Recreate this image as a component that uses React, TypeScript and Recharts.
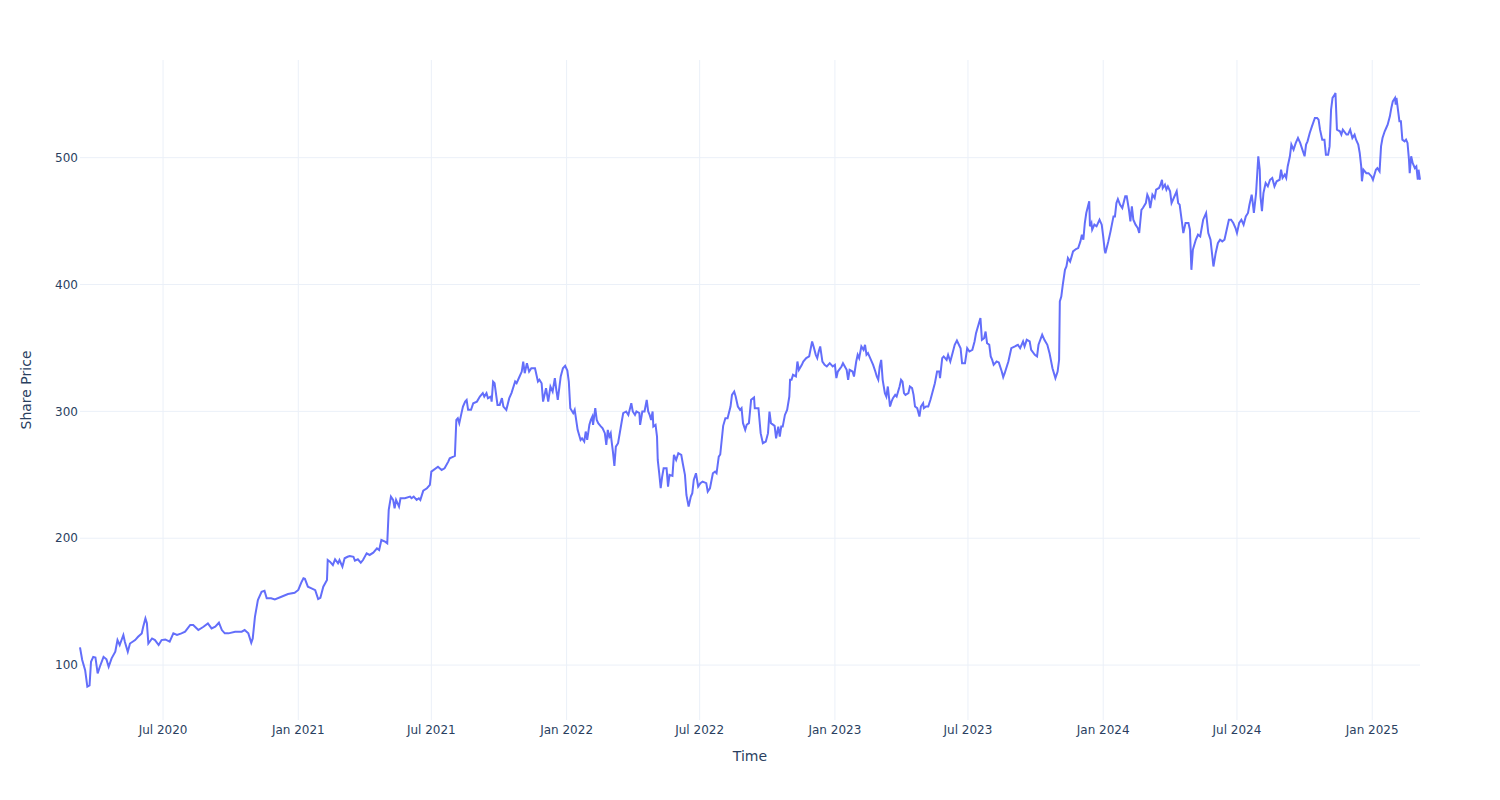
import { LineChart, Line, XAxis, YAxis, CartesianGrid } from 'recharts'

const dates = [
  '2020-03-10', '2020-03-13', '2020-03-17', '2020-03-20', '2020-03-23', '2020-03-25', '2020-03-28', '2020-03-31',
  '2020-04-03', '2020-04-06', '2020-04-11', '2020-04-15', '2020-04-18', '2020-04-22', '2020-04-27', '2020-04-30',
  '2020-05-03', '2020-05-08', '2020-05-10', '2020-05-14', '2020-05-17', '2020-05-24', '2020-05-28',
  '2020-06-02', '2020-06-04', '2020-06-07', '2020-06-09', '2020-06-11', '2020-06-16', '2020-06-20', '2020-06-25', '2020-06-29',
  '2020-07-04', '2020-07-10', '2020-07-15', '2020-07-20', '2020-07-26', '2020-07-31',
  '2020-08-07', '2020-08-11', '2020-08-18', '2020-08-25', '2020-08-31',
  '2020-09-05', '2020-09-10', '2020-09-15', '2020-09-19', '2020-09-23', '2020-09-28',
  '2020-10-07', '2020-10-16', '2020-10-20', '2020-10-25', '2020-10-29', '2020-10-31',
  '2020-11-03', '2020-11-07', '2020-11-12', '2020-11-16', '2020-11-19', '2020-11-25', '2020-11-30',
  '2020-12-09', '2020-12-18', '2020-12-27',
  '2021-01-01', '2021-01-05', '2021-01-08', '2021-01-10', '2021-01-14', '2021-01-19', '2021-01-24', '2021-01-28', '2021-01-31',
  '2021-02-04', '2021-02-09', '2021-02-10', '2021-02-13', '2021-02-17', '2021-02-20', '2021-02-24', '2021-02-26',
  '2021-03-02', '2021-03-05', '2021-03-09', '2021-03-12', '2021-03-17', '2021-03-19', '2021-03-23', '2021-03-27', '2021-03-30',
  '2021-04-04', '2021-04-08', '2021-04-13', '2021-04-18', '2021-04-21', '2021-04-24', '2021-04-29',
  '2021-05-02', '2021-05-04', '2021-05-07', '2021-05-10', '2021-05-12', '2021-05-14', '2021-05-18', '2021-05-20', '2021-05-26',
  '2021-06-02', '2021-06-04', '2021-06-07', '2021-06-11', '2021-06-14', '2021-06-16', '2021-06-20', '2021-06-25', '2021-06-29',
  '2021-07-01', '2021-07-10', '2021-07-15', '2021-07-19', '2021-07-24', '2021-07-26', '2021-07-31',
  '2021-08-02', '2021-08-04', '2021-08-06', '2021-08-08', '2021-08-11', '2021-08-13', '2021-08-16', '2021-08-18', '2021-08-20', '2021-08-24', '2021-08-27',
  '2021-09-01', '2021-09-05', '2021-09-09', '2021-09-11', '2021-09-14', '2021-09-16', '2021-09-20', '2021-09-21', '2021-09-23', '2021-09-25', '2021-09-29',
  '2021-10-02', '2021-10-05', '2021-10-07', '2021-10-11', '2021-10-15', '2021-10-18', '2021-10-23', '2021-10-25', '2021-10-29',
  '2021-11-01', '2021-11-03', '2021-11-05', '2021-11-08', '2021-11-11', '2021-11-14', '2021-11-19', '2021-11-23', '2021-11-25', '2021-11-28', '2021-11-30',
  '2021-12-04', '2021-12-07', '2021-12-10', '2021-12-13', '2021-12-16', '2021-12-18', '2021-12-20', '2021-12-24', '2021-12-27', '2021-12-30',
  '2022-01-02', '2022-01-04', '2022-01-06', '2022-01-10', '2022-01-12', '2022-01-14', '2022-01-16', '2022-01-20', '2022-01-22', '2022-01-25', '2022-01-27', '2022-01-29',
  '2022-02-01', '2022-02-03', '2022-02-05', '2022-02-06', '2022-02-09', '2022-02-11', '2022-02-13', '2022-02-16', '2022-02-19', '2022-02-22', '2022-02-24', '2022-02-26', '2022-02-28',
  '2022-03-02', '2022-03-03', '2022-03-05', '2022-03-07', '2022-03-09', '2022-03-12', '2022-03-17', '2022-03-19', '2022-03-23', '2022-03-26', '2022-03-30',
  '2022-04-01', '2022-04-04', '2022-04-06', '2022-04-10', '2022-04-11', '2022-04-14', '2022-04-17', '2022-04-20', '2022-04-22', '2022-04-24', '2022-04-26', '2022-04-28', '2022-04-29',
  '2022-05-02', '2022-05-04', '2022-05-05', '2022-05-07', '2022-05-09', '2022-05-11', '2022-05-13', '2022-05-17', '2022-05-19', '2022-05-21', '2022-05-25', '2022-05-27', '2022-05-30',
  '2022-06-02', '2022-06-06', '2022-06-08', '2022-06-11', '2022-06-13', '2022-06-16', '2022-06-19', '2022-06-21', '2022-06-23', '2022-06-26', '2022-06-29',
  '2022-07-02', '2022-07-05', '2022-07-10', '2022-07-12', '2022-07-15', '2022-07-19', '2022-07-22', '2022-07-24', '2022-07-27', '2022-07-29',
  '2022-08-02', '2022-08-05', '2022-08-08', '2022-08-12', '2022-08-14', '2022-08-17', '2022-08-19', '2022-08-22', '2022-08-25', '2022-08-27', '2022-08-29',
  '2022-09-01', '2022-09-03', '2022-09-06', '2022-09-09', '2022-09-13', '2022-09-14', '2022-09-19', '2022-09-22', '2022-09-25', '2022-09-29',
  '2022-10-02', '2022-10-04', '2022-10-06', '2022-10-11', '2022-10-13', '2022-10-16', '2022-10-18', '2022-10-20', '2022-10-22', '2022-10-25', '2022-10-28', '2022-10-31',
  '2022-11-01', '2022-11-03', '2022-11-05', '2022-11-09', '2022-11-11', '2022-11-13', '2022-11-17', '2022-11-19', '2022-11-23', '2022-11-27',
  '2022-12-01', '2022-12-03', '2022-12-06', '2022-12-08', '2022-12-10', '2022-12-12', '2022-12-15', '2022-12-18', '2022-12-21', '2022-12-25', '2022-12-29',
  '2023-01-01', '2023-01-03', '2023-01-05', '2023-01-10', '2023-01-12', '2023-01-17', '2023-01-19', '2023-01-21', '2023-01-25', '2023-01-27', '2023-01-30',
  '2023-02-01', '2023-02-03', '2023-02-06', '2023-02-09', '2023-02-11', '2023-02-13', '2023-02-15', '2023-02-18', '2023-02-22', '2023-02-25', '2023-02-27',
  '2023-03-01', '2023-03-03', '2023-03-05', '2023-03-07', '2023-03-10', '2023-03-12', '2023-03-14', '2023-03-17', '2023-03-19', '2023-03-21', '2023-03-24', '2023-03-26', '2023-03-30',
  '2023-04-01', '2023-04-03', '2023-04-05', '2023-04-07', '2023-04-11', '2023-04-13', '2023-04-16', '2023-04-18', '2023-04-20', '2023-04-23', '2023-04-26', '2023-04-28',
  '2023-05-01', '2023-05-02', '2023-05-05', '2023-05-08', '2023-05-11', '2023-05-14', '2023-05-17', '2023-05-20', '2023-05-23', '2023-05-24', '2023-05-27', '2023-05-29',
  '2023-06-02', '2023-06-04', '2023-06-07', '2023-06-10', '2023-06-13', '2023-06-16', '2023-06-21', '2023-06-23', '2023-06-27', '2023-06-30',
  '2023-07-03', '2023-07-07', '2023-07-10', '2023-07-12', '2023-07-16', '2023-07-18', '2023-07-20', '2023-07-23', '2023-07-25', '2023-07-27', '2023-07-30',
  '2023-08-01', '2023-08-03', '2023-08-05', '2023-08-09', '2023-08-12', '2023-08-16', '2023-08-18', '2023-08-20', '2023-08-25', '2023-08-29',
  '2023-09-03', '2023-09-07', '2023-09-10', '2023-09-14', '2023-09-16', '2023-09-19', '2023-09-23', '2023-09-25', '2023-09-30',
  '2023-10-03', '2023-10-05', '2023-10-10', '2023-10-13', '2023-10-17', '2023-10-20', '2023-10-24', '2023-10-28', '2023-10-31',
  '2023-11-02', '2023-11-03', '2023-11-05', '2023-11-07', '2023-11-10', '2023-11-12', '2023-11-14', '2023-11-17', '2023-11-19', '2023-11-21', '2023-11-25', '2023-11-28',
  '2023-12-01', '2023-12-03', '2023-12-05', '2023-12-07', '2023-12-09', '2023-12-13', '2023-12-14', '2023-12-16', '2023-12-17', '2023-12-20', '2023-12-23', '2023-12-27', '2023-12-30',
  '2024-01-01', '2024-01-03', '2024-01-04', '2024-01-08', '2024-01-11', '2024-01-15', '2024-01-17', '2024-01-19', '2024-01-21', '2024-01-24', '2024-01-27', '2024-01-31',
  '2024-02-02', '2024-02-05', '2024-02-07', '2024-02-09', '2024-02-11', '2024-02-14', '2024-02-17', '2024-02-19', '2024-02-22', '2024-02-24', '2024-02-28',
  '2024-03-01', '2024-03-03', '2024-03-05', '2024-03-08', '2024-03-11', '2024-03-13', '2024-03-17', '2024-03-19', '2024-03-21', '2024-03-22', '2024-03-25', '2024-03-27', '2024-03-29',
  '2024-04-01', '2024-04-03', '2024-04-06', '2024-04-10', '2024-04-12', '2024-04-14', '2024-04-17', '2024-04-19', '2024-04-22', '2024-04-26', '2024-04-28', '2024-04-30',
  '2024-05-02', '2024-05-06', '2024-05-09', '2024-05-12', '2024-05-16', '2024-05-20', '2024-05-23', '2024-05-26', '2024-05-30',
  '2024-06-02', '2024-06-05', '2024-06-08', '2024-06-11', '2024-06-14', '2024-06-17', '2024-06-20', '2024-06-23', '2024-06-26', '2024-06-29',
  '2024-07-01', '2024-07-04', '2024-07-07', '2024-07-10', '2024-07-13', '2024-07-16', '2024-07-18', '2024-07-21', '2024-07-22', '2024-07-24', '2024-07-27', '2024-07-30',
  '2024-08-01', '2024-08-02', '2024-08-04', '2024-08-06', '2024-08-09', '2024-08-12', '2024-08-15', '2024-08-18', '2024-08-21', '2024-08-24', '2024-08-28', '2024-08-30',
  '2024-09-01', '2024-09-04', '2024-09-06', '2024-09-08', '2024-09-11', '2024-09-13', '2024-09-16', '2024-09-19', '2024-09-22', '2024-09-25', '2024-09-28',
  '2024-10-01', '2024-10-03', '2024-10-05', '2024-10-08', '2024-10-11', '2024-10-15', '2024-10-18', '2024-10-20', '2024-10-22', '2024-10-25', '2024-10-28', '2024-10-30',
  '2024-11-02', '2024-11-04', '2024-11-06', '2024-11-08', '2024-11-11', '2024-11-12', '2024-11-14', '2024-11-18', '2024-11-20', '2024-11-22', '2024-11-27', '2024-11-29',
  '2024-12-02', '2024-12-05', '2024-12-08', '2024-12-10', '2024-12-13', '2024-12-15', '2024-12-17', '2024-12-18', '2024-12-20', '2024-12-24', '2024-12-27', '2024-12-31',
  '2025-01-02', '2025-01-06', '2025-01-08', '2025-01-11', '2025-01-13', '2025-01-15', '2025-01-18', '2025-01-20', '2025-01-22', '2025-01-25', '2025-01-27', '2025-01-29',
  '2025-02-01', '2025-02-02', '2025-02-03', '2025-02-05', '2025-02-07', '2025-02-09', '2025-02-11', '2025-02-14', '2025-02-16', '2025-02-18', '2025-02-20', '2025-02-21', '2025-02-23', '2025-02-25', '2025-02-28',
  '2025-03-02', '2025-03-04', '2025-03-05', '2025-03-07',
]

const prices = [
  114, 104, 96, 83, 84, 102.6, 106.5, 106,
  93.5, 98.7, 106.5, 104.5, 98.7, 105.3, 110.5, 119.7,
  115.8, 123.7, 118.4, 110.5, 117, 119.7, 122.3,
  125, 130.2, 136.8, 133, 117, 121, 119.7, 115.8, 119.7,
  120.2, 118.4, 125, 123.7, 125, 126.3,
  131.6, 131.6, 127.6, 130.2, 132.9,
  128.9, 130.2, 133.4, 127.6, 125, 125,
  126.3, 126.3, 127.6, 125, 117.6, 121,
  138, 151.3, 157.8, 158.6, 152.6, 152.6, 151.8,
  153.9, 156, 157,
  159.2, 165, 168.4, 168, 161.8, 160.5, 159, 152, 153,
  161.8, 167, 182.8, 181.5, 178.9, 183.4, 180.2, 182.8,
  177.6, 184.2, 185.4, 186, 185.4, 182.3, 183.4, 180.7, 182.8,
  188.1, 186.8, 188.6, 192, 190.7, 198.6, 197.3,
  196, 222.3, 232.8, 230.2, 223.6, 230.2, 224.9, 231.5, 231.5,
  232.8, 231.5, 232.8, 230.2, 231.5, 230.2, 237.5, 239.4, 242,
  252.5, 256.4, 253.8, 255.1, 260.4, 263, 264.3,
  264.9, 293.3, 294.6, 290.7, 298.6, 303.8, 307.7, 309, 301.2, 301.2, 306.4,
  307.7, 311.7, 314.4, 311.7, 314.4, 310.4, 311.7, 307.7, 323.5, 322.2, 305.1,
  305.1, 310.4, 303.8, 301.2, 310.4, 314.4, 323.5, 322.2, 327.5,
  331.4, 339.3, 330.1, 338, 331.4, 334, 334, 323.5, 324.9, 322.2, 307.7,
  318.3, 307.7, 319.6, 315.6, 326.2, 317, 309.1, 327.5, 334, 335.9,
  332.1, 323.5, 302.5, 298.6, 301.2, 293.3, 285.4, 277.5, 278.8, 276.2, 284.1, 277.5,
  289.4, 293.3, 295.9, 289.4, 302.5, 293.3, 290.7, 288.6, 286.7, 282.8, 273.6, 285.4, 280.1,
  282.8, 277.5, 268.3, 257, 272.2, 274.9, 292, 298.6, 299.9, 297.2, 306.4,
  299.9, 297.2, 299.9, 298.6, 289.4, 299.9, 299.9, 309, 299.9, 297.2, 293.3, 299.9, 288,
  289.4, 280.1, 261.7, 251.2, 239.4, 248.6, 255.1, 255.1, 240.7, 249.9, 249.1, 265.7, 261.7,
  267, 265.7, 259.1, 249.9, 234.1, 224.9, 232.8, 235.5, 246, 251.2, 240.7,
  243.4, 244.6, 243.4, 236.8, 239.4, 251.2, 252.5, 251.2, 264.3, 266,
  288.6, 294.6, 294.6, 303.8, 313, 315.6, 311.7, 303.8, 301.2, 302.5, 290.7,
  285.4, 289.4, 290.7, 309.1, 311, 302.5, 302.5, 282.8, 274.9, 276.2,
  282.8, 299.9, 290.7, 288.6, 278.8, 288, 280.1, 288, 288, 297.2, 301.2, 311.7,
  324.9, 324.9, 328.8, 327.5, 339.3, 332.7, 336.7, 339.3, 342, 343.3,
  355.1, 351.2, 344.6, 342, 347.2, 351.2, 339.3, 336.7, 335.4, 338, 335.4,
  336.7, 326.2, 331.4, 335.4, 338, 332.7, 324.9, 332.7, 331.4, 327.5, 339.3,
  344.6, 342, 351.2, 348.5, 352.5, 344.6, 345.9, 342, 336.7, 331.4, 327.5,
  324.9, 335.4, 340.6, 324.9, 314.4, 311.7, 319.6, 303.8, 307.7, 310.4, 313, 311.7, 319.6,
  324.9, 323.5, 314.4, 313, 314.4, 319.6, 318.3, 313, 303.8, 302.5, 295.9, 303.8,
  306.4, 302.5, 303.8, 303.8, 309.1, 315.6, 322.2, 331.4, 331.4, 326.2, 342, 343.3,
  340.6, 344.6, 339.3, 345.9, 352.5, 355.9, 349.8, 338, 338, 349.8,
  347.2, 348.5, 355.1, 361.7, 369.6, 373.5, 356.4, 357.7, 362.9, 353.8, 352.5,
  343.3, 340.6, 336.7, 339.3, 338.6, 331.4, 327, 330.1, 339.3, 349.8,
  351.2, 352.5, 349.8, 355.1, 351.2, 356.4, 355.1, 348.5, 344.6,
  343.3, 352.5, 360.4, 356.4, 352.5, 345.9, 334, 326.2, 331.4,
  340.6, 386.6, 390.5, 399.8, 411.6, 414.2, 420.9, 418.1, 422, 426.1, 428, 428.7,
  434, 439.3, 435.3, 448.5, 456.4, 465.6, 445.9, 448.5, 443.2, 447.2, 445.9, 451.1, 447.2,
  437.9, 427.4, 424.7, 434, 441.9, 453.7, 453.7, 464.2, 467.4, 462.9, 460.3, 469.5,
  469.5, 459, 449.8, 461.6, 451.1, 447.2, 444.5, 440.6, 458.9, 460.3, 464.2,
  470.8, 468.2, 460.3, 470.8, 468.2, 474.8, 476.1, 478.7, 482.6, 476.1, 478.7, 474.8, 477.4,
  473.5, 464.2, 468.2, 473.5, 464.2, 463, 449.8, 440.6, 448.5, 448.5, 443.2, 411.6,
  427.4, 435.3, 439.3, 437.9, 451.1, 456.4, 440.6, 435.3, 414.2,
  424.7, 432.6, 435.3, 434, 435.3, 443.2, 451.1, 451.1, 448.5, 444.5,
  440.6, 448.5, 451.1, 447.2, 453.7, 456.4, 462.9, 470.8, 466.8, 456.4, 472.1, 501.1,
  490.5, 469.5, 457.8, 472.1, 480, 477.4, 482.6, 484, 477.4, 481.4, 482.6, 490.5,
  484, 486.6, 484, 493.1, 501.1, 510.3, 506.3, 511.6, 515.5, 511.6, 506.3,
  501.1, 510.3, 512.9, 519.5, 524.7, 531.3, 531.3, 530, 522.1, 514.2, 514.2, 502.4,
  502.4, 508.9, 537.8, 547.1, 549.7, 551, 522.1, 520.8, 518.2, 522.1, 518.2, 518.2,
  522.1, 515.5, 518.2, 514.2, 510.3, 503.7, 493.1, 481.4, 490.5, 487.8, 487.8, 485.2,
  482.6, 490.5, 491.8, 489.2, 508.9, 515.5, 520.8, 523.4, 526, 532.6, 539.2, 544.4,
  547.1, 541.8, 547.1, 537.8, 528.8, 528.8, 514.2, 512.9, 514.2, 511.6, 498.5, 487.8, 501.1, 495.8, 491.8,
  493.1, 482.6, 490.5, 482.6,
]

const tickDates = [
  '2020-07-01', '2021-01-01', '2021-07-01', '2022-01-01', '2022-07-01',
  '2023-01-01', '2023-07-01', '2024-01-01', '2024-07-01', '2025-01-01',
]
const tickLabels = [
  'Jul 2020', 'Jan 2021', 'Jul 2021', 'Jan 2022', 'Jul 2022',
  'Jan 2023', 'Jul 2023', 'Jan 2024', 'Jul 2024', 'Jan 2025',
]
const priceTicks = [100, 200, 300, 400, 500]

const FONT = '"DejaVu Sans", Verdana, sans-serif'
const TEXT = '#2a3f5f'
const GRID = '#ebf0f8'

const data = dates.map((d, i) => ({ t: Date.parse(d), price: prices[i] }))
const xTicks = tickDates.map((d) => Date.parse(d))

function formatTime(value: number): string {
  const idx = xTicks.indexOf(value)
  return idx >= 0 ? tickLabels[idx] : ''
}

export default function App() {
  return (
    <div style={{ position: 'absolute', left: 0, top: 0, background: '#fff' }}>
      <LineChart
        width={1500}
        height={800}
        data={data}
        margin={{ top: 60, right: 80, bottom: 0, left: 0 }}
      >
        <CartesianGrid stroke={GRID} strokeWidth={1} syncWithTicks />
        <XAxis
          dataKey="t"
          type="number"
          scale="linear"
          domain={['dataMin', 'dataMax']}
          ticks={xTicks}
          tickFormatter={formatTime}
          axisLine={false}
          tickLine={false}
          tickSize={0}
          tickMargin={5}
          height={80}
          tick={{ fill: TEXT, fontSize: 12, fontFamily: FONT }}
          label={{
            value: 'Time',
            position: 'insideBottom',
            offset: 39,
            fill: TEXT,
            fontSize: 14,
            fontFamily: FONT,
          }}
        />
        <YAxis
          type="number"
          domain={[56.7, 577]}
          ticks={priceTicks}
          allowDataOverflow
          axisLine={false}
          tickLine={false}
          tickSize={0}
          tickMargin={2}
          width={80}
          tick={{ fill: TEXT, fontSize: 12, fontFamily: FONT }}
          label={{
            value: 'Share Price',
            angle: -90,
            position: 'insideLeft',
            offset: 26,
            fill: TEXT,
            fontSize: 14,
            fontFamily: FONT,
            style: { textAnchor: 'middle' },
          }}
        />
        <Line
          type="linear"
          dataKey="price"
          stroke="#636efa"
          strokeWidth={2}
          dot={false}
          isAnimationActive={false}
        />
      </LineChart>
    </div>
  )
}
